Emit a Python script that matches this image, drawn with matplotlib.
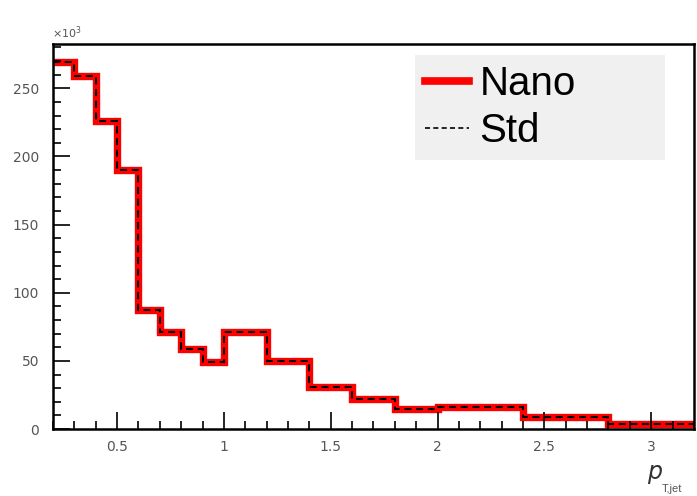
import numpy as np
import matplotlib
matplotlib.use('Agg')
from matplotlib import pyplot as plt
from matplotlib.ticker import MultipleLocator

# bin edges in pT (variable width) and counts in units of 10^3
edges = [0.2, 0.3, 0.4, 0.5, 0.6, 0.7, 0.8, 0.9, 1.0, 1.2, 1.4, 1.6, 1.8, 2.0, 2.4, 2.8, 3.2]
nano = [269, 259, 226, 190, 87.5, 71, 59, 49.5, 71, 50, 31, 22, 15, 16.5, 8.6, 4]
std = [269, 259, 226, 190, 87.5, 71, 59, 49.5, 71, 50, 31, 22, 15, 16.5, 8.6, 4]

plt.rcParams['font.family'] = ['Liberation Sans', 'DejaVu Sans']

fig = plt.figure(figsize=(6.97, 4.96), dpi=100)
ax = fig.add_axes([0.076, 0.135, 0.9196, 0.776])

ax.stairs(nano, edges, color='red', linewidth=5.3, label='Nano', baseline=None)
ax.stairs(std, edges, color='black', linewidth=1.5, linestyle=(0, (3.4, 2.2)), label='Std', baseline=None)

ax.set_xlim(0.2, 3.2)
ax.set_ylim(0, max(nano) * 1.05)

ax.xaxis.set_major_locator(MultipleLocator(0.5))
ax.xaxis.set_minor_locator(MultipleLocator(0.1))
ax.yaxis.set_major_locator(MultipleLocator(50))
ax.yaxis.set_minor_locator(MultipleLocator(10))
ax.tick_params(which='both', direction='in', top=False, right=False, width=1.2)
ax.tick_params(which='major', length=12, labelsize=10, labelcolor='#555555')
ax.tick_params(axis='y', which='major', pad=10)
ax.tick_params(axis='x', which='major', pad=8)
ax.tick_params(which='minor', length=6)
ax.xaxis.set_major_formatter(plt.FuncFormatter(lambda v, p: f'{v:g}'))
for lbl in ax.get_xticklabels() + ax.get_yticklabels():
    lbl.set_family('DejaVu Sans')
for s in ax.spines.values():
    s.set_linewidth(1.8)

# exponent marker above the y axis
fig.text(0.074, 0.918, r'$\times10^{3}$', fontsize=8, color='#555555', ha='left', va='bottom')

# x axis title: italic p with a small subscript
fig.text(0.928, 0.034, r'$p$', fontsize=17, color='#333333', ha='left', va='baseline')
fig.text(0.950, 0.008, 'T,jet', fontsize=8, color='#555555', ha='left', va='baseline')

leg = ax.legend(loc='upper left', bbox_to_anchor=(0.565, 0.972, 0.39, 0.0), mode='expand',
                fontsize=29, frameon=True, fancybox=False, handlelength=1.1,
                handletextpad=0.25, labelspacing=0.22, borderpad=0.25, borderaxespad=0)
leg.get_frame().set_facecolor('#f0f0f0')
leg.get_frame().set_edgecolor('none')
leg.get_frame().set_alpha(1)
leg.legend_handles[0].set_linewidth(5.5)
leg.legend_handles[1].set_linewidth(1.2)
leg.legend_handles[1].set_linestyle((0, (3, 2)))

fig.savefig('out.png', dpi=100)
